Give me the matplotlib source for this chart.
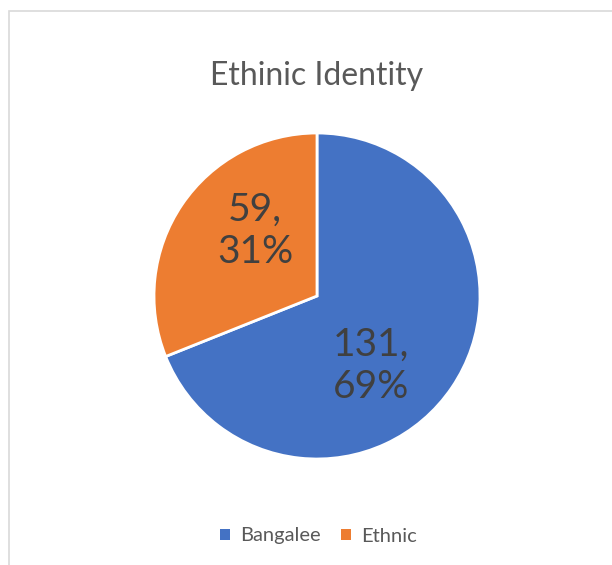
import matplotlib
matplotlib.use("Agg")
import matplotlib.pyplot as plt
from matplotlib.patches import Rectangle

categories = ["Bangalee", "Ethnic"]
counts = [131, 59]
colors = ["#4472C4", "#ED7D31"]
title = "Ethinic Identity"

W, H = 612, 565
fig = plt.figure(figsize=(W / 100, H / 100), dpi=100)
plt.rcParams['font.family'] = ['Lato', 'DejaVu Sans']

# chart frame
fig.patches.append(Rectangle((8.5 / W, -0.1), 1.2, (H - 10.5) / H + 0.1,
                             transform=fig.transFigure, fill=False,
                             edgecolor="#D9D9D9", linewidth=1.2))

cx, cy, r = 317, 296, 163
ax = fig.add_axes([(cx - r) / W, (H - cy - r) / H, 2 * r / W, 2 * r / H])
total = sum(counts)
wedges, _ = ax.pie(counts, colors=colors, startangle=90, counterclock=False,
                   radius=1.0,
                   wedgeprops=dict(edgecolor="white", linewidth=2))
ax.set_xlim(-1, 1)
ax.set_ylim(-1, 1)
ax.set_aspect("equal")
ax.axis("off")

label_pos = [(0.33, -0.43), (-0.38, 0.40)]
for (lx, ly), c in zip(label_pos, counts):
    ax.text(lx, ly, f"{c},\n{round(100 * c / total)}%", ha="center", va="center",
            fontsize=28, color="#404040", linespacing=1.2)

fig.text(cx / W, 1 - 76 / H, title, ha="center", va="center",
         fontsize=23, color="#595959")

leg = fig.legend(wedges, categories, loc="center", bbox_to_anchor=(318 / W, 1 - 536 / H),
                 ncol=2, frameon=False, fontsize=14.5, handlelength=0.5, handleheight=0.5,
                 handletextpad=0.5, columnspacing=1.0, labelcolor="#595959")
for h in leg.legend_handles:
    h.set_edgecolor("none")

fig.savefig("out.png", dpi=100)
